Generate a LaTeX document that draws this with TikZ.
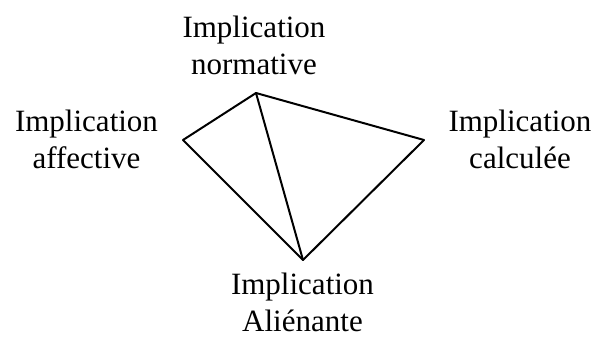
\documentclass[tikz,border=0pt]{standalone}
\usepackage{fontspec}
\setmainfont{Liberation Serif}
\begin{document}
\begin{tikzpicture}[x=1pt,y=-1pt,
  lbl/.style={align=center,inner sep=0pt,anchor=base,font=\fontsize{31}{37}\selectfont},
  edge/.style={line width=2pt,line cap=round}]
\useasboundingbox (0,0) rectangle (595,338);
\coordinate (T) at (256,93);
\coordinate (L) at (183,140);
\coordinate (R) at (424,140);
\coordinate (B) at (303,260);
\node[lbl] (tn) at (254,74.3) {Implication\\normative};
\node[lbl] (ln) at (86.5,168.3) {Implication\\affective};
\node[lbl] (rn) at (520,168.3) {Implication\\calculée};
\node[lbl] (bn) at (302.5,331) {Implication\\Aliénante};
\draw[edge] (T) -- (L);
\draw[edge] (L) -- (B);
\draw[edge] (B) -- (R);
\draw[edge] (R) -- (T);
\draw[edge] (T) -- (B);
\end{tikzpicture}
\end{document}
